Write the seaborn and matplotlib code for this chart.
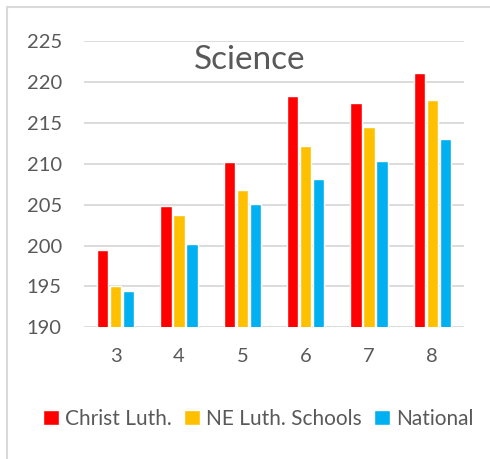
import matplotlib
matplotlib.use("Agg")
import matplotlib.pyplot as plt
import seaborn as sns
import pandas as pd
from matplotlib.lines import Line2D

grades = ["3", "4", "5", "6", "7", "8"]
christ_luth = [199.5, 204.9, 210.2, 218.3, 217.4, 221.1]
ne_luth = [195.1, 203.8, 206.8, 212.2, 214.5, 217.8]
national = [194.5, 200.2, 205.1, 208.1, 210.4, 213.1]
series_names = ["Christ Luth.", "NE Luth. Schools", "National"]
colors = ["#FF0000", "#FFC000", "#00B0F0"]
yticks = [190, 195, 200, 205, 210, 215, 220, 225]

rows = []
for name, vals in zip(series_names, [christ_luth, ne_luth, national]):
    for g, v in zip(grades, vals):
        rows.append({"Grade": g, "Series": name, "Score": v})
df = pd.DataFrame(rows)

sns.set_theme(style="white")
plt.rcParams["font.family"] = ["Lato", "DejaVu Sans"]
text_color = "#595959"

fig = plt.figure(figsize=(4.9, 4.59), dpi=100)
ax = fig.add_axes([0.1714, 0.287, 0.7755, 0.623])

sns.barplot(data=df, x="Grade", y="Score", hue="Series", order=grades,
            hue_order=series_names, palette=colors, width=0.62, gap=0.14,
            saturation=1, ax=ax, legend=True, zorder=3)

ax.set_ylim(190, 225)
ax.set_xlim(-0.5, 5.5)
ax.set_yticks(yticks)
ax.set_yticklabels([str(t) for t in yticks])
ax.yaxis.grid(True, color="#D9D9D9", linewidth=1.3, zorder=0)
ax.set_axisbelow(True)
for s in ax.spines.values():
    s.set_visible(False)
ax.set_xlabel("")
ax.set_ylabel("")
ax.tick_params(axis="both", length=0, labelsize=14.5, labelcolor=text_color)
ax.tick_params(axis="y", pad=16)
ax.tick_params(axis="x", pad=15)

ax.text(0.435, 0.903, "Science", transform=ax.transAxes, ha="center", va="baseline",
        fontsize=24, color=text_color)

handles, labels = ax.get_legend_handles_labels()
ax.get_legend().remove()
fig.legend(handles, labels, loc="center", bbox_to_anchor=(0.527, 1 - 419 / 459),
           ncol=3, frameon=False, fontsize=15, labelcolor=text_color,
           handlelength=0.75, handleheight=0.75, handletextpad=0.3,
           columnspacing=0.6)

top_y = 1 - 7 / 459
left_x = 7 / 490
fig.add_artist(Line2D([left_x, 1.0], [top_y, top_y], transform=fig.transFigure,
                      color="#D9D9D9", linewidth=1.5))
fig.add_artist(Line2D([left_x, left_x], [0.0, top_y], transform=fig.transFigure,
                      color="#D9D9D9", linewidth=1.5))

fig.savefig("out.png", dpi=100, facecolor="white")
